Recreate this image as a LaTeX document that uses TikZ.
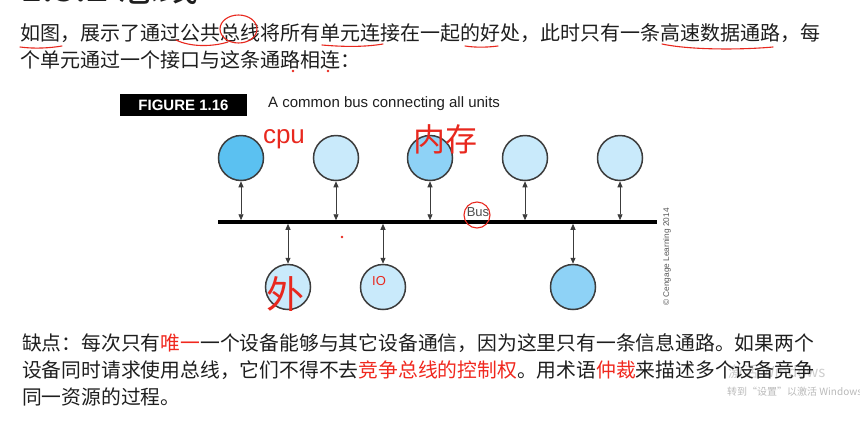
\documentclass[tikz,border=0pt]{standalone}
\usepackage{fontspec}
\setmainfont{Liberation Sans}
\newfontfamily\cjk{Noto Sans CJK SC}
\usepackage{tikz}
\usetikzlibrary{arrows.meta,positioning,calc}
\definecolor{busDark}{HTML}{5BC1F1}
\definecolor{busMid}{HTML}{8ED2F6}
\definecolor{busLight}{HTML}{C9EAFB}
\definecolor{busEdge}{HTML}{3C3C3C}
\definecolor{inkRed}{HTML}{E8281E}
\definecolor{txtRed}{HTML}{F0281E}
\definecolor{txtInk}{HTML}{1E1E1E}
\definecolor{winGrey}{HTML}{B9B9B9}

\begin{document}
\begin{tikzpicture}[x=1pt, y=-1pt,
  unit/.style={circle,draw=busEdge,line width=1.5pt,minimum size=45pt,inner sep=0pt},
  link/.style={{Triangle[length=6pt,width=5pt]}-{Triangle[length=6pt,width=5pt]},draw=busEdge,line width=0.9pt},
  ink/.style={inkRed,line width=1.1pt,line cap=round},
  para/.style={anchor=west,inner sep=0pt,text=txtInk},
  scrawl/.style={inner sep=0pt,text=inkRed,font=\cjk}]
\useasboundingbox (0,0) rectangle (860,432);
\begin{scope}
\clip (0,0) rectangle (860,432);
\node[anchor=base west,inner sep=0pt,text=txtInk,font=\cjk\fontsize{40}{40}\selectfont] (title) at (20,1) {1.3.2 总线};
\end{scope}
% windows watermark, behind the text
\node[anchor=west,inner sep=0pt,text=winGrey!70,font=\cjk\fontsize{15}{15}\selectfont] (wm1) at (728,372) {激活 Windows};
\node[anchor=west,inner sep=0pt,text=winGrey,font=\cjk\fontsize{10}{10}\selectfont] (wm2) at (727,392) {转到“设置”以激活 Windows。};
% text above the figure
\node[para,font=\cjk\fontsize{20}{20}\selectfont] (p1) at (20,33) {如图，展示了通过公共总线将所有单元连接在一起的好处，此时只有一条高速数据通路，每};
\node[para,font=\cjk\fontsize{20}{20}\selectfont] (p2) at (20,60) {个单元通过一个接口与这条通路相连：};
% text below the figure
\node[para,font=\cjk\fontsize{19.8}{20}\selectfont] (q1) at (22,343) {缺点：每次只有{\color{txtRed}唯一}一个设备能够与其它设备通信，因为这里只有一条信息通路。如果两个};
\node[para,font=\cjk\fontsize{19.8}{20}\selectfont] (q2) at (22,370) {设备同时请求使用总线，它们不得不去{\color{txtRed}竞争总线的控制权}。用术语{\color{txtRed}仲裁}来描述多个设备竞争};
\node[para,font=\cjk\fontsize{19.8}{20}\selectfont] (q3) at (22,397) {同一资源的过程。};
% figure
\node[fill=black,text=white,font=\bfseries\fontsize{15}{15}\selectfont,minimum width=127pt,minimum height=22pt,inner sep=0pt] (tag) at (183.5,105) {FIGURE 1.16};
\node[anchor=west,inner sep=0pt,text=txtInk,font=\fontsize{15}{15}\selectfont] (cap) at (268,104) {A common bus connecting all units};
\coordinate (busL) at (218,222);
\coordinate (busR) at (657,222);
\draw[black,line width=3.5pt] (busL) -- (busR);
\node[inner sep=0pt,text=black!70,font=\fontsize{13}{13}\selectfont] (buslbl) at (478,212) {Bus};
\foreach \n/\x/\c in {1/241/busDark,2/336/busLight,3/430/busMid,4/525/busLight,5/620/busLight}
  \node[unit,fill=\c] (t\n) at (\x,158) {};
\foreach \n/\x/\c in {1/288/busLight,2/383/busLight,3/573/busMid}
  \node[unit,fill=\c] (b\n) at (\x,287) {};
\foreach \n in {1,...,5} \draw[link,shorten >=1.75pt] (t\n) -- (t\n |- busL);
\foreach \n in {1,2,3} \draw[link,shorten <=1.75pt] (b\n |- busL) -- (b\n);
\node[rotate=90,inner sep=0pt,text=black!65,font=\fontsize{8.3}{9}\selectfont] (copy) at (667,257) {\textcopyright\ Cengage Learning 2014};
% red pen marks
\draw[ink] (20,47) .. controls (35,49) and (50,48) .. (62,46);
\draw[ink] (176,40) .. controls (190,47) and (212,47) .. (228,42);
\draw[ink] (238.5,29) ellipse (18.5 and 14);
\draw[ink] (322,45) .. controls (345,47) and (365,47) .. (383,44);
\draw[ink] (465,46) .. controls (478,48) and (490,47) .. (498,46);
\draw[ink] (662,44) .. controls (690,50) and (740,50) .. (773,47);
\draw[ink] (477,215) ellipse (13 and 13);
\foreach \p in {(293,71),(328,71),(342,237)} \fill[inkRed] \p circle (1.3);
\node[scrawl,font=\fontsize{26}{26}\selectfont] (cpu) at (284,139) {cpu};
\node[scrawl,font=\cjk\fontsize{32}{32}\selectfont] (mem) at (445,139) {内存};
\node[scrawl,font=\cjk\fontsize{38}{38}\selectfont] (ext) at (285,294) {外};
\node[scrawl,font=\fontsize{13}{13}\selectfont] (io) at (379,281) {IO};
\end{tikzpicture}
\end{document}
